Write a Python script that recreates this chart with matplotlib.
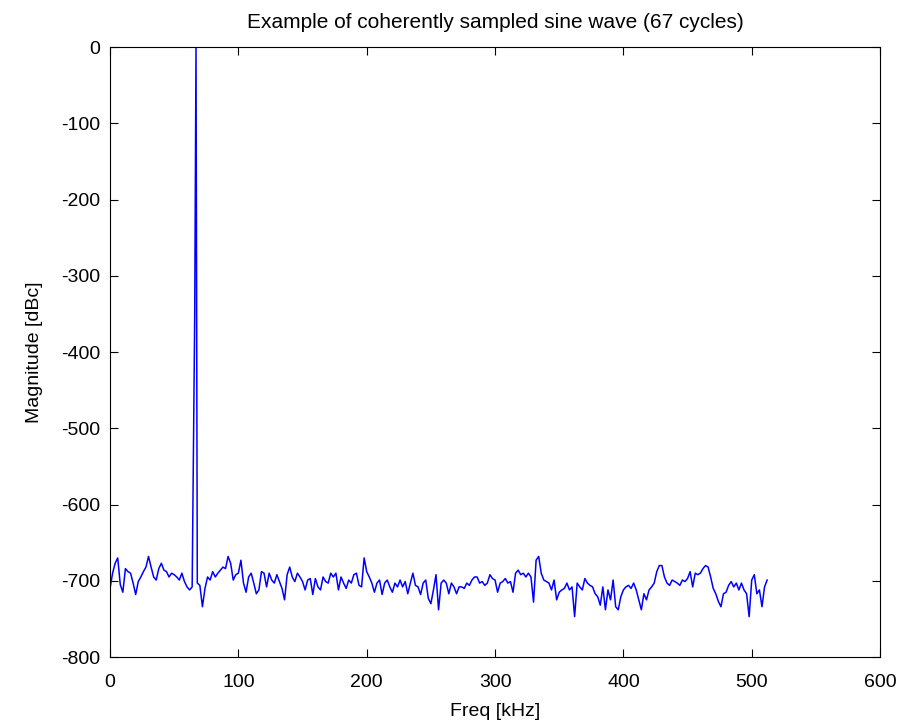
import numpy as np
import matplotlib
matplotlib.use("Agg")
import matplotlib.pyplot as plt

# noise floor, every 2 kHz from 0 to 512 kHz (bin 66 is the tone skirt)
noise_db = [
    -710, -690, -677, -670, -705, -715, -684, -688, -690, -703,
    -718, -701, -695, -688, -682, -668, -682, -695, -699, -684,
    -677, -686, -688, -695, -690, -692, -695, -699, -690, -701,
    -708, -712, -708, -350, -703, -706, -734, -710, -695, -699,
    -688, -695, -690, -686, -682, -684, -668, -677, -699, -692,
    -690, -673, -703, -715, -695, -690, -703, -717, -712, -688,
    -690, -708, -690, -699, -703, -692, -701, -710, -725, -692,
    -682, -695, -701, -690, -695, -701, -712, -699, -697, -718,
    -697, -708, -712, -695, -701, -703, -690, -695, -690, -712,
    -695, -703, -710, -699, -703, -692, -690, -706, -708, -670,
    -688, -695, -703, -715, -703, -699, -718, -703, -699, -708,
    -715, -703, -708, -699, -708, -701, -717, -703, -690, -706,
    -708, -718, -703, -699, -723, -730, -712, -692, -738, -703,
    -699, -703, -717, -703, -708, -717, -708, -708, -710, -703,
    -706, -699, -695, -695, -703, -701, -706, -703, -692, -697,
    -699, -715, -703, -701, -697, -703, -701, -715, -690, -686,
    -692, -690, -695, -690, -695, -728, -673, -668, -690, -699,
    -701, -703, -712, -699, -725, -715, -712, -710, -703, -712,
    -708, -747, -703, -708, -712, -697, -703, -706, -708, -717,
    -721, -732, -708, -738, -712, -725, -699, -734, -738, -721,
    -712, -708, -706, -710, -703, -712, -725, -738, -717, -725,
    -712, -708, -703, -688, -680, -680, -695, -703, -706, -699,
    -701, -703, -706, -699, -701, -697, -688, -708, -690, -692,
    -690, -684, -680, -682, -695, -710, -717, -727, -734, -717,
    -715, -706, -701, -708, -703, -712, -703, -712, -717, -747,
    -699, -692, -717, -712, -734, -708, -699,
]
tone_khz = 67
tone_db = 0

freq_khz = list(range(0, 513, 2))
freq_khz.insert(34, tone_khz)
mag_db = list(noise_db)
mag_db.insert(34, tone_db)

plt.rcParams['font.family'] = ['Liberation Sans', 'DejaVu Sans']
plt.rcParams['axes.unicode_minus'] = False

fig = plt.figure(figsize=(9.07, 7.26), dpi=100)
ax = fig.add_axes([0.1213, 0.095, 0.849, 0.840])

ax.plot(freq_khz, mag_db, color=(0, 0, 1), linewidth=1.1)

ax.set_xlim(0, 600)
ax.set_ylim(-800, 0)
ax.set_xticks(np.arange(0, 601, 100))
ax.set_yticks(np.arange(-800, 1, 100))
ax.tick_params(direction='in', top=True, right=True, labelsize=14, length=6)
ax.tick_params(axis='x', pad=12)
ax.tick_params(axis='y', pad=7)
for s in ax.spines.values():
    s.set_linewidth(0.8)

ax.set_xlabel('Freq [kHz]', fontsize=14, labelpad=9)
ax.set_ylabel('Magnitude [dBc]', fontsize=14, labelpad=13)
ax.set_title('Example of coherently sampled sine wave (67 cycles)', fontsize=15, pad=14)

plt.savefig('out.png', dpi=100)
plt.close()
